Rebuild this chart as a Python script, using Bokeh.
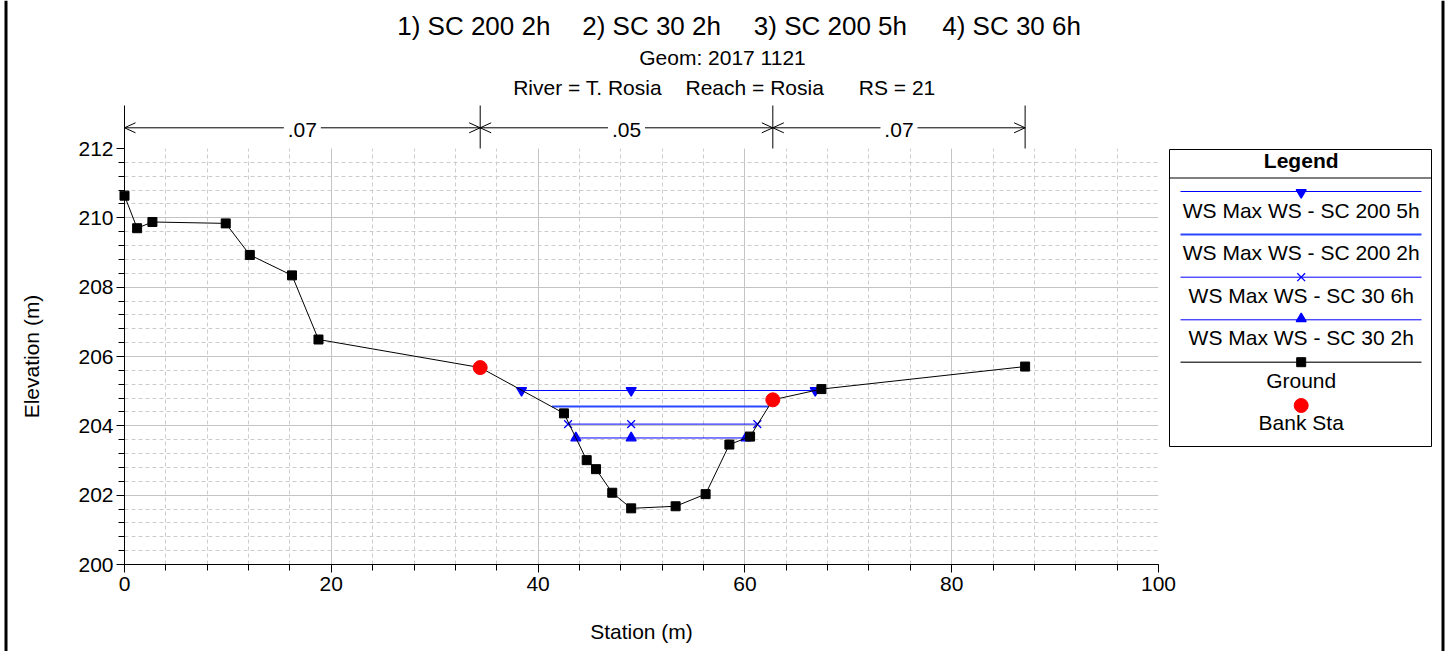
from bokeh.plotting import figure
from bokeh.models import Range1d, SingleIntervalTicker, ColumnDataSource, Column
from bokeh.core.properties import value
from bokeh.embed import file_html
from bokeh.resources import INLINE

FONT = "Liberation Sans"

# Ground profile of the cross section (station m, elevation m)
station = [0.0, 1.22, 2.7, 9.79, 12.12, 16.2, 18.76, 34.4, 42.5, 44.7, 45.6,
           47.17, 49.0, 53.3, 56.2, 58.5, 60.5, 62.7, 67.4, 87.1]
elevation = [210.64, 209.70, 209.88, 209.84, 208.93, 208.34, 206.49, 205.68,
             204.36, 203.01, 202.75, 202.07, 201.62, 201.68, 202.03, 203.46,
             203.69, 204.75, 205.06, 205.71]

# Bank stations
bank_station = [34.4, 62.7]
bank_elevation = [205.68, 204.75]

# Maximum water surface of each plan
ws_names = ["WS Max WS - SC 200 5h", "WS Max WS - SC 200 2h",
            "WS Max WS - SC 30 6h", "WS Max WS - SC 30 2h"]
ws_elevation = [205.02, 204.56, 204.05, 203.65]
ws_left = [38.4, 41.35, 42.9, 43.65]
ws_mid = [49.0, 49.0, 49.0, 49.0]
ws_right = [66.8, 62.3, 61.2, 60.1]

# Manning's n zones
n_breaks = [0.0, 34.4, 62.7, 87.1]
n_values = [".07", ".05", ".07"]

plan_titles = ["1) SC 200 2h", "2) SC 30 2h", "3) SC 200 5h", "4) SC 30 6h"]
geom_title = "Geom: 2017 1121"
location_parts = ["River = T. Rosia", "Reach = Rosia", "RS = 21"]

W, H = 1447, 651
X0, X1 = 0, 100
Y0, Y1 = 200, 212
BORDER_L, BORDER_R, BORDER_T, BORDER_B = 124, 289, 148, 87

# ---------------------------------------------------------------- main plot
p = figure(width=W, height=H, output_backend="svg", toolbar_location=None,
           x_range=Range1d(X0, X1), y_range=Range1d(Y0, Y1),
           min_border_left=BORDER_L, min_border_right=BORDER_R,
           min_border_top=BORDER_T, min_border_bottom=BORDER_B)
p.frame_align = False
p.outline_line_color = None
p.background_fill_color = "white"
p.border_fill_color = "white"

p.xaxis.ticker = SingleIntervalTicker(interval=20, num_minor_ticks=5)
p.yaxis.ticker = SingleIntervalTicker(interval=2, num_minor_ticks=5)
for ax in (p.xaxis[0], p.yaxis[0]):
    ax.axis_line_color = "black"
    ax.major_tick_line_color = "black"
    ax.minor_tick_line_color = "black"
    ax.major_tick_in = 0
    ax.major_tick_out = 8
    ax.minor_tick_in = 0
    ax.minor_tick_out = 6
    ax.major_label_text_font = FONT
    ax.major_label_text_font_size = "21px"
    ax.major_label_text_color = "black"
    ax.axis_label_text_font = FONT
    ax.axis_label_text_font_size = "21px"
    ax.axis_label_text_font_style = "normal"
    ax.axis_label_text_color = "black"
p.xaxis.axis_label = "Station (m)"
p.yaxis.axis_label = "Elevation (m)"
p.xaxis.major_label_standoff = 4
p.yaxis.major_label_standoff = 3
p.xaxis.axis_label_standoff = 26
p.yaxis.axis_label_standoff = 32

for g in (p.xgrid[0], p.ygrid[0]):
    g.grid_line_color = "#c4c4c4"
    g.grid_line_width = 1
    g.minor_grid_line_color = "#cccccc"
    g.minor_grid_line_dash = "4 3"
    g.minor_grid_line_width = 1

ws_styles = [
    dict(marker="inverted_triangle", color="#0000ff", width=1, size=10),
    dict(marker=None, color="#2a48ff", width=2, size=0),
    dict(marker="x", color="#0000ff", width=1, size=11),
    dict(marker="triangle", color="#0000ff", width=1, size=10),
]
for i, st in enumerate(ws_styles):
    xs = [ws_left[i], ws_mid[i], ws_right[i]]
    ys = [ws_elevation[i]] * 3
    p.line(xs, ys, line_color=st["color"], line_width=st["width"])
    if st["marker"]:
        p.scatter(xs, ys, marker=st["marker"], size=st["size"],
                  line_color=st["color"], fill_color=st["color"], line_width=1.3)

gsrc = ColumnDataSource(dict(x=station, y=elevation))
p.line("x", "y", source=gsrc, line_color="black", line_width=1)

# ------------------------------------------- overlay for headings and legend
# Pixel space of the whole page (y grows downward) plus station/elevation
# ranges aligned with the main plot's frame.
o = figure(width=W, height=H, output_backend="svg", toolbar_location=None,
           x_range=Range1d(0, W), y_range=Range1d(H, 0), min_border=0,
           x_axis_location=None, y_axis_location=None)
o.frame_align = False
o.outline_line_color = None
o.background_fill_alpha = 0
o.border_fill_alpha = 0
o.grid.visible = False
o.margin = (-H, 0, 0, 0)
ppu = (W - BORDER_L - BORDER_R) / (X1 - X0)
ppu_y = (H - BORDER_T - BORDER_B) / (Y1 - Y0)
o.extra_x_ranges = {"station": Range1d(X0 - BORDER_L / ppu, X0 + (W - BORDER_L) / ppu)}
o.extra_y_ranges = {"elev": Range1d(Y0 - BORDER_B / ppu_y, Y1 + BORDER_T / ppu_y)}

# ground points and bank stations (drawn here so edge markers are not cut)
o.scatter("x", "y", source=gsrc, x_range_name="station", y_range_name="elev",
          marker="square", size=9, fill_color="black", line_color="black")
o.scatter(bank_station, bank_elevation, x_range_name="station", y_range_name="elev",
          marker="circle", size=14, fill_color="#ff0000", line_color="#ff0000")

TXT = dict(text_font=value(FONT), text_color="black")
SHIFT = 0.36  # baseline correction, in em


def ys_at(baselines, size):
    return [b - SHIFT * size for b in baselines]


# titles
title_x = [396.7, 581.7, 753.3, 941.7]
o.text(x=title_x, y=ys_at([35] * 4, 26), text=plan_titles, text_font_size=value("26px"),
       text_align="left", text_baseline="alphabetic", **TXT)
o.text(x=[722], y=ys_at([65], 21), text=[geom_title], text_font_size=value("21px"),
       text_align="center", text_baseline="alphabetic", **TXT)
loc_x = [512.7, 685.0, 858.3]
o.text(x=loc_x, y=ys_at([95] * 3, 21), text=location_parts, text_font_size=value("21px"),
       text_align="left", text_baseline="alphabetic", **TXT)

# Manning's n bar
N_Y, N_TOP, N_BOT = 127.3, 105, 148
head = 11 / ppu
gap = 18.5 / ppu
o.segment(x0=n_breaks, y0=[N_TOP] * 4, x1=n_breaks, y1=[N_BOT] * 4,
          x_range_name="station", line_color="black", line_width=1)
mids = [(n_breaks[i] + n_breaks[i + 1]) / 2 for i in range(len(n_values))]
hx0, hx1 = [], []
arrow_xs, arrow_ys = [], []
for i in range(len(n_values)):
    a, b, m = n_breaks[i], n_breaks[i + 1], mids[i]
    hx0 += [a, m + gap]
    hx1 += [m - gap, b]
    arrow_xs += [[a + head, a, a + head], [b - head, b, b - head]]
    arrow_ys += [[N_Y - 5, N_Y, N_Y + 5]] * 2
o.segment(x0=hx0, y0=[N_Y] * len(hx0), x1=hx1, y1=[N_Y] * len(hx1),
          x_range_name="station", line_color="black", line_width=1)
o.multi_line(xs=arrow_xs, ys=arrow_ys, x_range_name="station",
             line_color="black", line_width=1)
o.text(x=mids, y=ys_at([136.7] * len(mids), 21), text=n_values, x_range_name="station",
       text_font_size=value("21px"), text_align="center", text_baseline="alphabetic", **TXT)

# legend panel
cx = 1300.7
o.quad(left=[1169], right=[1431], top=[149], bottom=[446],
       fill_color="white", line_color="black", line_width=1)
o.segment(x0=[1169], y0=[177.5], x1=[1431], y1=[177.5], line_color="black", line_width=1)
o.text(x=[cx], y=ys_at([167.3], 21), text=["Legend"], text_font_size=value("21px"),
       text_font_style="bold", text_align="center", text_baseline="alphabetic", **TXT)

line_y = [191, 234, 276.7, 319.3]
label_y = [217.3, 259.3, 302.3, 344.3]
marker_dy = {"inverted_triangle": 1, "triangle": -1, "x": 0}
for i, st in enumerate(ws_styles):
    o.line([1180, 1421], [line_y[i]] * 2, line_color=st["color"], line_width=st["width"])
    if st["marker"]:
        o.scatter([cx], [line_y[i] + marker_dy[st["marker"]]], marker=st["marker"],
                  size=st["size"], line_color=st["color"], fill_color=st["color"],
                  line_width=1.3)
o.text(x=[cx] * 4, y=ys_at(label_y, 21), text=ws_names, text_font_size=value("21px"),
       text_align="center", text_baseline="alphabetic", **TXT)

o.line([1180, 1421], [361.7, 361.7], line_color="#444444", line_width=1.5)
o.scatter([cx], [361.7], marker="square", size=9, fill_color="black", line_color="black")
o.text(x=[cx], y=ys_at([387.3], 21), text=["Ground"], text_font_size=value("21px"),
       text_align="center", text_baseline="alphabetic", **TXT)
o.scatter([cx], [405], marker="circle", size=14, fill_color="#ff0000", line_color="#ff0000")
o.text(x=[cx], y=ys_at([430], 21), text=["Bank Sta"], text_font_size=value("21px"),
       text_align="center", text_baseline="alphabetic", **TXT)

# page frame edges
o.quad(left=[4, 1441], right=[7, 1444], top=[0, 0], bottom=[H, H],
       fill_color="black", line_color=None)

root = Column(p, o, spacing=0)
open("out.html", "w").write(file_html(root, INLINE))
